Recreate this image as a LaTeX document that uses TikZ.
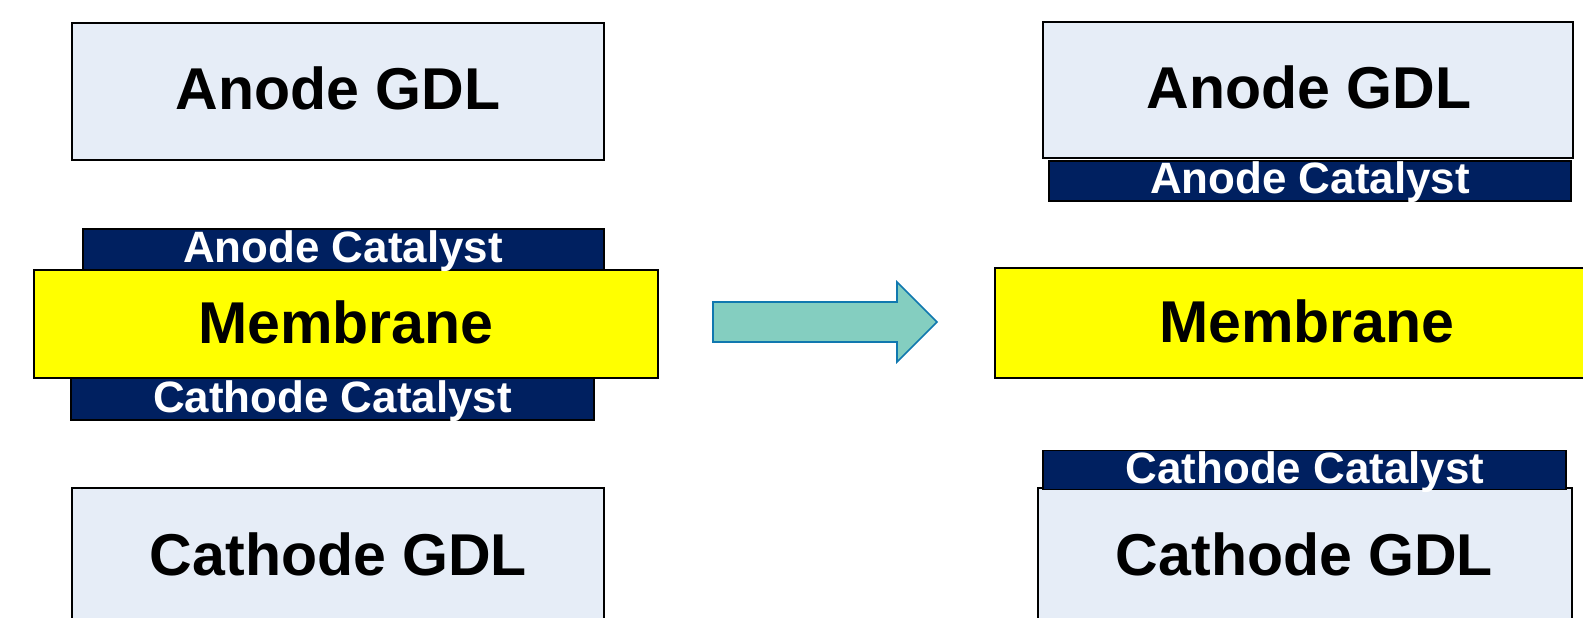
\documentclass[tikz,border=0pt]{standalone}
\usepackage{fontspec}
\setmainfont{Liberation Sans}
\definecolor{gdlfill}{RGB}{230,237,247}
\definecolor{navy}{RGB}{0,32,96}
\definecolor{memfill}{RGB}{255,255,0}
\definecolor{arrowfill}{RGB}{132,206,192}
\definecolor{arrowline}{RGB}{16,120,175}
\begin{document}
\begin{tikzpicture}[x=0.02cm,y=-0.02cm,
  gdl/.style={draw=black,line width=0.9pt,fill=gdlfill,inner sep=0pt},
  cat/.style={draw=black,line width=0.9pt,fill=navy,inner sep=0pt},
  mem/.style={draw=black,line width=0.9pt,fill=memfill,inner sep=0pt},
  bigtxt/.style={anchor=base,inner sep=0pt,font=\fontsize{33.6}{40}\selectfont\bfseries,text=black},
  cattxt/.style={anchor=base,inner sep=0pt,font=\fontsize{25}{30}\selectfont\bfseries,text=white}]
\useasboundingbox (0,0) rectangle (1583,618);
\clip (0,0) rectangle (1583,618);
% left stack
\node[gdl,minimum width=10.64cm,minimum height=2.74cm] (lagdl) at (338,91.5) {};
\node[cat,minimum width=10.42cm,minimum height=0.9cm] (lacat) at (343.5,251.5) {};
\node[cat,minimum width=10.46cm,minimum height=0.96cm] (lccat) at (332.5,396) {};
\node[mem,minimum width=12.48cm,minimum height=2.16cm] (lmem) at (346,324) {};
\node[gdl,minimum width=10.64cm,minimum height=3.04cm] (lcgdl) at (338,564) {};
% arrow
\draw[arrowline,fill=arrowfill,line width=0.9pt,line join=miter]
  (713,302) -- (897,302) -- (897,282) -- (937,322) -- (897,362) -- (897,342) -- (713,342) -- cycle;
% right stack
\node[gdl,minimum width=10.6cm,minimum height=2.72cm] (ragdl) at (1308,90) {};
\node[cat,minimum width=10.44cm,minimum height=0.8cm] (racat) at (1310,181) {};
\node[mem,minimum width=12.1cm,minimum height=2.2cm] (rmem) at (1297.5,323) {};
\node[gdl,minimum width=10.68cm,minimum height=3.04cm] (rcgdl) at (1305,564) {};
\node[cat,minimum width=10.46cm,minimum height=0.78cm] (rccat) at (1304.5,470) {};
% texts
\node[bigtxt] (t1) at (338,110) {Anode GDL};
\node[cattxt] (t2) at (343,263) {Anode Catalyst};
\node[bigtxt] (t3) at (346,343) {Membrane};
\node[cattxt] (t4) at (332.5,413) {Cathode Catalyst};
\node[bigtxt] (t5) at (338.5,575) {Cathode GDL};
\node[bigtxt] (t6) at (1309,109) {Anode GDL};
\node[cattxt] (t7) at (1310,194) {Anode Catalyst};
\node[bigtxt] (t8) at (1307,342) {Membrane};
\node[cattxt] (t9) at (1305,483) {Cathode Catalyst};
\node[bigtxt] (t10) at (1304.5,575) {Cathode GDL};
\end{tikzpicture}
\end{document}
